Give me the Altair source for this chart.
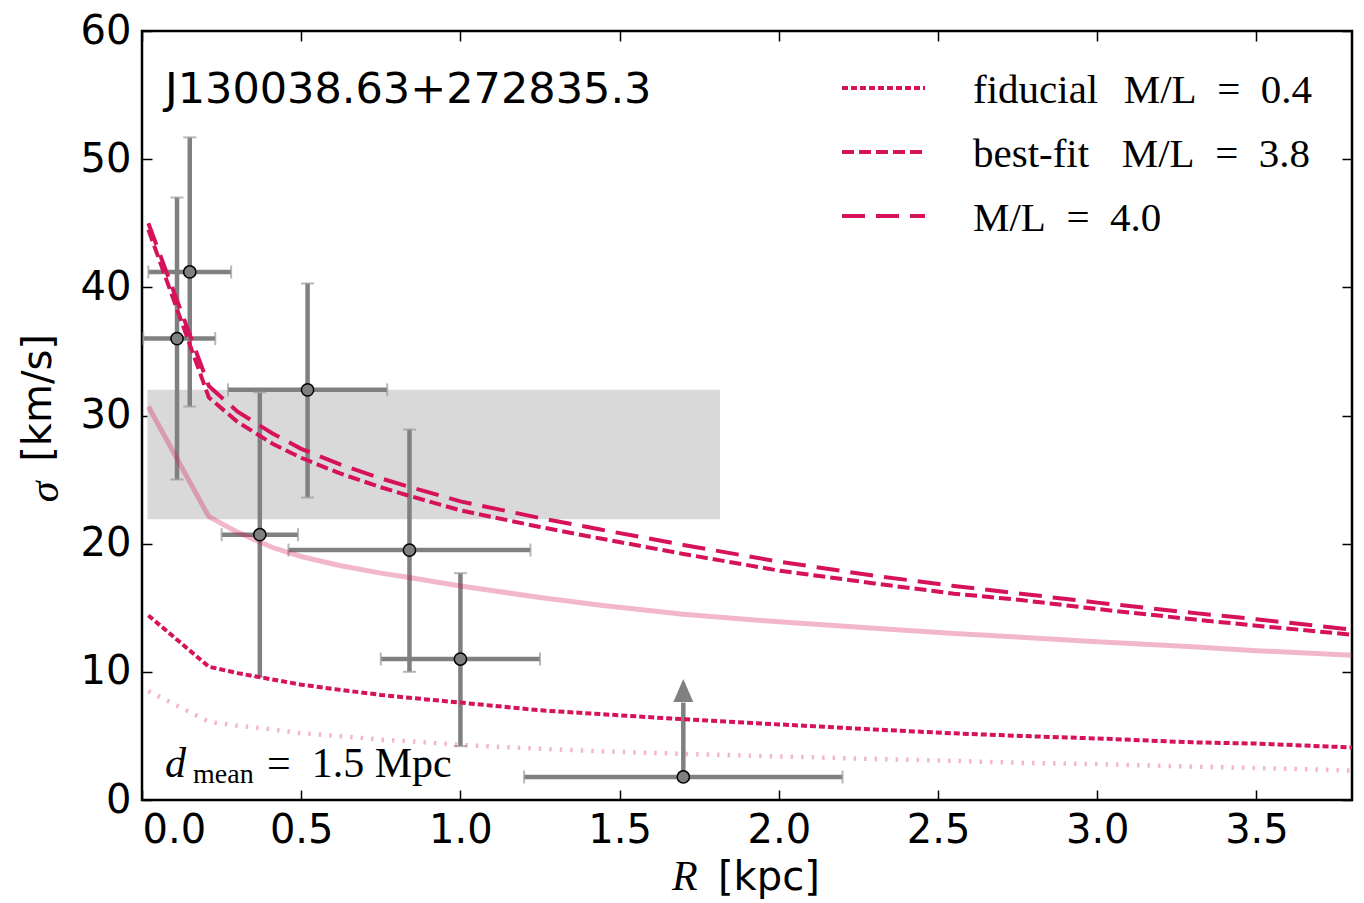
import altair as alt
import pandas as pd

# ---------------- data ----------------
# measured points (R [kpc], sigma [km/s]) with error ranges
pt_x = [0.11, 0.15, 0.37, 0.52, 0.84, 1.00]
pt_y = [36.0, 41.2, 20.7, 32.0, 19.5, 11.0]
pt_xlo = [0.004, 0.02, 0.25, 0.27, 0.46, 0.75]
pt_xhi = [0.23, 0.28, 0.49, 0.77, 1.22, 1.25]
pt_ylo = [25.0, 30.7, 9.6, 23.6, 10.0, 4.2]
pt_yhi = [47.0, 51.7, 31.8, 40.3, 28.9, 17.7]

# lower-limit point with arrow
ul_x = [1.70]
ul_y = [1.8]
ul_xlo = [1.20]
ul_xhi = [2.20]
ul_shaft_top = [7.6]
ul_head = [8.55]

# shaded band
band_x = [0.017, 1.815]
band_y = [21.9, 32.0]

# model curves
curve_r = [0.02, 0.21, 0.3, 0.41, 0.5, 0.62, 0.75, 0.83, 1.0, 1.25, 1.44, 1.7, 2.0, 2.3,
           2.55, 2.76, 3.0, 3.3, 3.5, 3.8]
ml40 = [45.0, 32.3, 30.3, 28.6, 27.4, 26.2, 25.1, 24.5, 23.3, 22.0, 21.1, 19.9, 18.6, 17.5,
        16.7, 16.1, 15.4, 14.6, 14.1, 13.3]
ml38 = [44.5, 31.4, 29.5, 27.8, 26.7, 25.5, 24.4, 23.8, 22.6, 21.3, 20.4, 19.2, 17.9, 16.9,
        16.1, 15.6, 14.9, 14.1, 13.6, 12.9]
fid = [14.4, 10.4, 9.9, 9.4, 9.0, 8.6, 8.2, 8.0, 7.6, 7.0, 6.7, 6.3, 5.9, 5.5,
       5.2, 5.0, 4.8, 4.5, 4.4, 4.1]
pink_solid = [30.7, 22.1, 20.9, 19.7, 19.0, 18.3, 17.7, 17.4, 16.7, 15.8, 15.2, 14.5, 13.9, 13.4,
              13.0, 12.7, 12.35, 11.95, 11.65, 11.3]
pink_dot = [8.5, 6.1, 5.8, 5.5, 5.2, 5.0, 4.7, 4.6, 4.3, 4.0, 3.8, 3.6, 3.4, 3.2,
            3.05, 2.9, 2.8, 2.6, 2.5, 2.3]

x_ticks = [0.0, 0.5, 1.0, 1.5, 2.0, 2.5, 3.0, 3.5]
y_ticks = [0, 10, 20, 30, 40, 50, 60]

legend_names = ["fiducial", "best-fit", ""]
legend_ml = ["M/L\u2002=\u20020.4", "M/L\u2002=\u20023.8", "M/L\u2002=\u20024.0"]

# ---------------- styling ----------------
RED = "#d6125a"
GRAY = "#808080"
CAP = "#9a9a9a"
W, H = 1210, 769

xs = alt.Scale(domain=[0, 3.8], nice=False, zero=False)
ys = alt.Scale(domain=[0, 60], nice=False, zero=False)

ax_bottom = alt.Axis(orient="bottom", values=x_ticks, format=".1f", title=None,
                     offset=-10, tickSize=10, labelPadding=10,
                     grid=False, domain=False)
ax_left = alt.Axis(orient="left", values=y_ticks, title=None,
                   offset=-10, tickSize=10, labelPadding=11,
                   grid=False, domain=False)
ax_top = alt.Axis(orient="top", values=x_ticks, labels=False, title=None,
                  offset=-10, tickSize=10, grid=False, domain=False)
ax_right = alt.Axis(orient="right", values=y_ticks, labels=False, title=None,
                    offset=-10, tickSize=10, grid=False, domain=False)

band_df = pd.DataFrame({"x0": [band_x[0]], "x1": [band_x[1]], "y0": [band_y[0]], "y1": [band_y[1]]})
band = alt.Chart(band_df).mark_rect(color="#d9d9d9").encode(
    x=alt.X("x0:Q", scale=xs, axis=ax_bottom),
    x2="x1", y=alt.Y("y0:Q", scale=ys, axis=ax_left), y2="y1")

pts = pd.DataFrame({"x": pt_x, "y": pt_y, "xlo": pt_xlo, "xhi": pt_xhi, "ylo": pt_ylo, "yhi": pt_yhi})
ul = pd.DataFrame({"x": ul_x, "y": ul_y, "xlo": ul_xlo, "xhi": ul_xhi, "top": ul_shaft_top, "head": ul_head})

xerr = alt.Chart(pts).mark_rule(color=GRAY, strokeWidth=4.5).encode(
    x=alt.X("xlo:Q", scale=xs, axis=None), x2="xhi", y=alt.Y("y:Q", scale=ys, axis=None))
yerr = alt.Chart(pts).mark_rule(color=GRAY, strokeWidth=4.5).encode(
    x=alt.X("x:Q", scale=xs, axis=None), y=alt.Y("ylo:Q", scale=ys, axis=None), y2="yhi")
xcap_lo = alt.Chart(pts).mark_tick(color=CAP, orient="vertical", size=13, thickness=2).encode(
    x=alt.X("xlo:Q", scale=xs, axis=None), y=alt.Y("y:Q", scale=ys, axis=None))
xcap_hi = alt.Chart(pts).mark_tick(color=CAP, orient="vertical", size=13, thickness=2).encode(
    x=alt.X("xhi:Q", scale=xs, axis=None), y=alt.Y("y:Q", scale=ys, axis=None))
ycap_lo = alt.Chart(pts).mark_tick(color=CAP, orient="horizontal", size=13, thickness=2).encode(
    x=alt.X("x:Q", scale=xs, axis=None), y=alt.Y("ylo:Q", scale=ys, axis=None))
ycap_hi = alt.Chart(pts).mark_tick(color=CAP, orient="horizontal", size=13, thickness=2).encode(
    x=alt.X("x:Q", scale=xs, axis=None), y=alt.Y("yhi:Q", scale=ys, axis=None))

ul_xerr = alt.Chart(ul).mark_rule(color=GRAY, strokeWidth=4.5).encode(
    x=alt.X("xlo:Q", scale=xs, axis=None), x2="xhi", y=alt.Y("y:Q", scale=ys, axis=None))
ul_caplo = alt.Chart(ul).mark_tick(color=CAP, orient="vertical", size=13, thickness=2).encode(
    x=alt.X("xlo:Q", scale=xs, axis=None), y=alt.Y("y:Q", scale=ys, axis=None))
ul_caphi = alt.Chart(ul).mark_tick(color=CAP, orient="vertical", size=13, thickness=2).encode(
    x=alt.X("xhi:Q", scale=xs, axis=None), y=alt.Y("y:Q", scale=ys, axis=None))
ul_shaft = alt.Chart(ul).mark_rule(color=GRAY, strokeWidth=4.5).encode(
    x=alt.X("x:Q", scale=xs, axis=None), y=alt.Y("y:Q", scale=ys, axis=None), y2="top")
ul_arrow = alt.Chart(ul).mark_point(shape="M0,-1.15L1,1.15L-1,1.15Z", size=400, filled=True,
                                    color=GRAY, opacity=1).encode(
    x=alt.X("x:Q", scale=xs, axis=None), y=alt.Y("head:Q", scale=ys, axis=None))


def curve(vals, color, width, dash=None, opacity=1.0, top_axes=False):
    df = pd.DataFrame({"r": curve_r, "s": vals})
    kw = dict(color=color, strokeWidth=width, opacity=opacity, clip=True)
    if dash:
        kw["strokeDash"] = dash
    return alt.Chart(df).mark_line(**kw).encode(
        x=alt.X("r:Q", scale=xs, axis=ax_top if top_axes else None),
        y=alt.Y("s:Q", scale=ys, axis=ax_right if top_axes else None),
        order="r:Q")


c_pink_dot = curve(pink_dot, RED, 4.5, dash=[2.5, 8], opacity=0.3)
c_pink = curve(pink_solid, RED, 5, opacity=0.3, top_axes=True)
c_fid = curve(fid, RED, 4, dash=[6, 3])
c_38 = curve(ml38, RED, 4, dash=[12, 5])
c_40 = curve(ml40, RED, 4, dash=[23, 11])

circles = alt.Chart(pts).mark_point(shape="circle", size=150, filled=True, fill=GRAY,
                                    stroke="black", strokeWidth=1.5, opacity=1).encode(
    x=alt.X("x:Q", scale=xs, axis=None), y=alt.Y("y:Q", scale=ys, axis=None))
ul_circle = alt.Chart(ul).mark_point(shape="circle", size=150, filled=True, fill=GRAY,
                                     stroke="black", strokeWidth=1.5, opacity=1).encode(
    x=alt.X("x:Q", scale=xs, axis=None), y=alt.Y("y:Q", scale=ys, axis=None))

# name label
name_df = pd.DataFrame({"t": ["J130038.63+272835.3"]})
name = alt.Chart(name_df).mark_text(font="DejaVu Sans", fontSize=43, align="left",
                                    baseline="alphabetic", color="black").encode(
    text="t:N", x=alt.value(23), y=alt.value(72))

# axis titles (mixed italic serif symbol + sans unit)
t_df = pd.DataFrame({"sym_x": ["R"], "unit_x": ["[kpc]"], "sym_y": ["σ"], "unit_y": ["[km/s]"]})
xt1 = alt.Chart(t_df).mark_text(font="Liberation Serif", fontStyle="italic", fontSize=42,
                                align="left", baseline="alphabetic").encode(
    text="sym_x:N", x=alt.value(530), y=alt.value(859))
xt2 = alt.Chart(t_df).mark_text(font="DejaVu Sans", fontSize=40,
                                align="left", baseline="alphabetic").encode(
    text="unit_x:N", x=alt.value(576), y=alt.value(859))
yt1 = alt.Chart(t_df).mark_text(font="Liberation Serif", fontStyle="italic", fontSize=42,
                                align="center", baseline="middle", angle=270).encode(
    text="sym_y:N", x=alt.value(-97), y=alt.value(461))
yt2 = alt.Chart(t_df).mark_text(font="DejaVu Sans", fontSize=40,
                                align="center", baseline="middle", angle=270).encode(
    text="unit_y:N", x=alt.value(-103), y=alt.value(367))

# legend
leg_df = pd.DataFrame({"name": legend_names, "ml": legend_ml, "row": [0, 1, 2]})
dashes = [[6, 3], [12, 5], [23, 11]]
leg_rows = [57, 121, 185]
leg_layers = []
for i in range(3):
    sub = leg_df[leg_df.row == i]
    leg_layers.append(alt.Chart(sub).mark_rule(color=RED, strokeWidth=4, strokeDash=dashes[i]).encode(
        x=alt.value(700), x2=alt.value(783), y=alt.value(leg_rows[i])))
    if i < 2:
        leg_layers.append(alt.Chart(sub).mark_text(font="Liberation Serif", fontSize=41, align="left",
                                                   baseline="alphabetic", color="black").encode(
            text="name:N", x=alt.value(831), y=alt.value(leg_rows[i] + 15)))
        leg_layers.append(alt.Chart(sub).mark_text(font="Liberation Serif", fontSize=41, align="right",
                                                   baseline="alphabetic", color="black").encode(
            text="ml:N", x=alt.value(1170 - 2 * i), y=alt.value(leg_rows[i] + 15)))
    else:
        leg_layers.append(alt.Chart(sub).mark_text(font="Liberation Serif", fontSize=41, align="left",
                                                   baseline="alphabetic", color="black").encode(
            text="ml:N", x=alt.value(831), y=alt.value(leg_rows[i] + 15)))

# d_mean annotation
d_df = pd.DataFrame({"a": ["d"], "b": ["mean"], "c": ["=\u20021.5 Mpc"]})
d1 = alt.Chart(d_df).mark_text(font="Liberation Serif", fontStyle="italic", fontSize=42,
                               align="left", baseline="alphabetic").encode(
    text="a:N", x=alt.value(23), y=alt.value(746))
d2 = alt.Chart(d_df).mark_text(font="Liberation Serif", fontSize=28,
                               align="left", baseline="alphabetic").encode(
    text="b:N", x=alt.value(51), y=alt.value(752))
d3 = alt.Chart(d_df).mark_text(font="Liberation Serif", fontSize=42,
                               align="left", baseline="alphabetic").encode(
    text="c:N", x=alt.value(125), y=alt.value(746))

chart = alt.layer(
    band, xerr, yerr, xcap_lo, xcap_hi, ycap_lo, ycap_hi,
    ul_xerr, ul_caplo, ul_caphi, ul_shaft, ul_arrow,
    c_pink_dot, c_pink, c_fid, c_38, c_40,
    circles, ul_circle, name, d1, d2, d3, xt1, xt2, yt1, yt2, *leg_layers
).resolve_axis(x="independent", y="independent").properties(
    width=W, height=H,
    padding={"left": 142, "top": 31, "right": 12, "bottom": 103},
    autosize=alt.AutoSizeParams(type="none"),
    background="white",
).configure_view(stroke="black", strokeWidth=2.5).configure_axis(
    labelFont="DejaVu Sans", labelFontSize=40, labelColor="black",
    tickColor="black", tickWidth=1.5,
)

chart.save("out.html", embed_options={"renderer": "svg", "actions": False})
